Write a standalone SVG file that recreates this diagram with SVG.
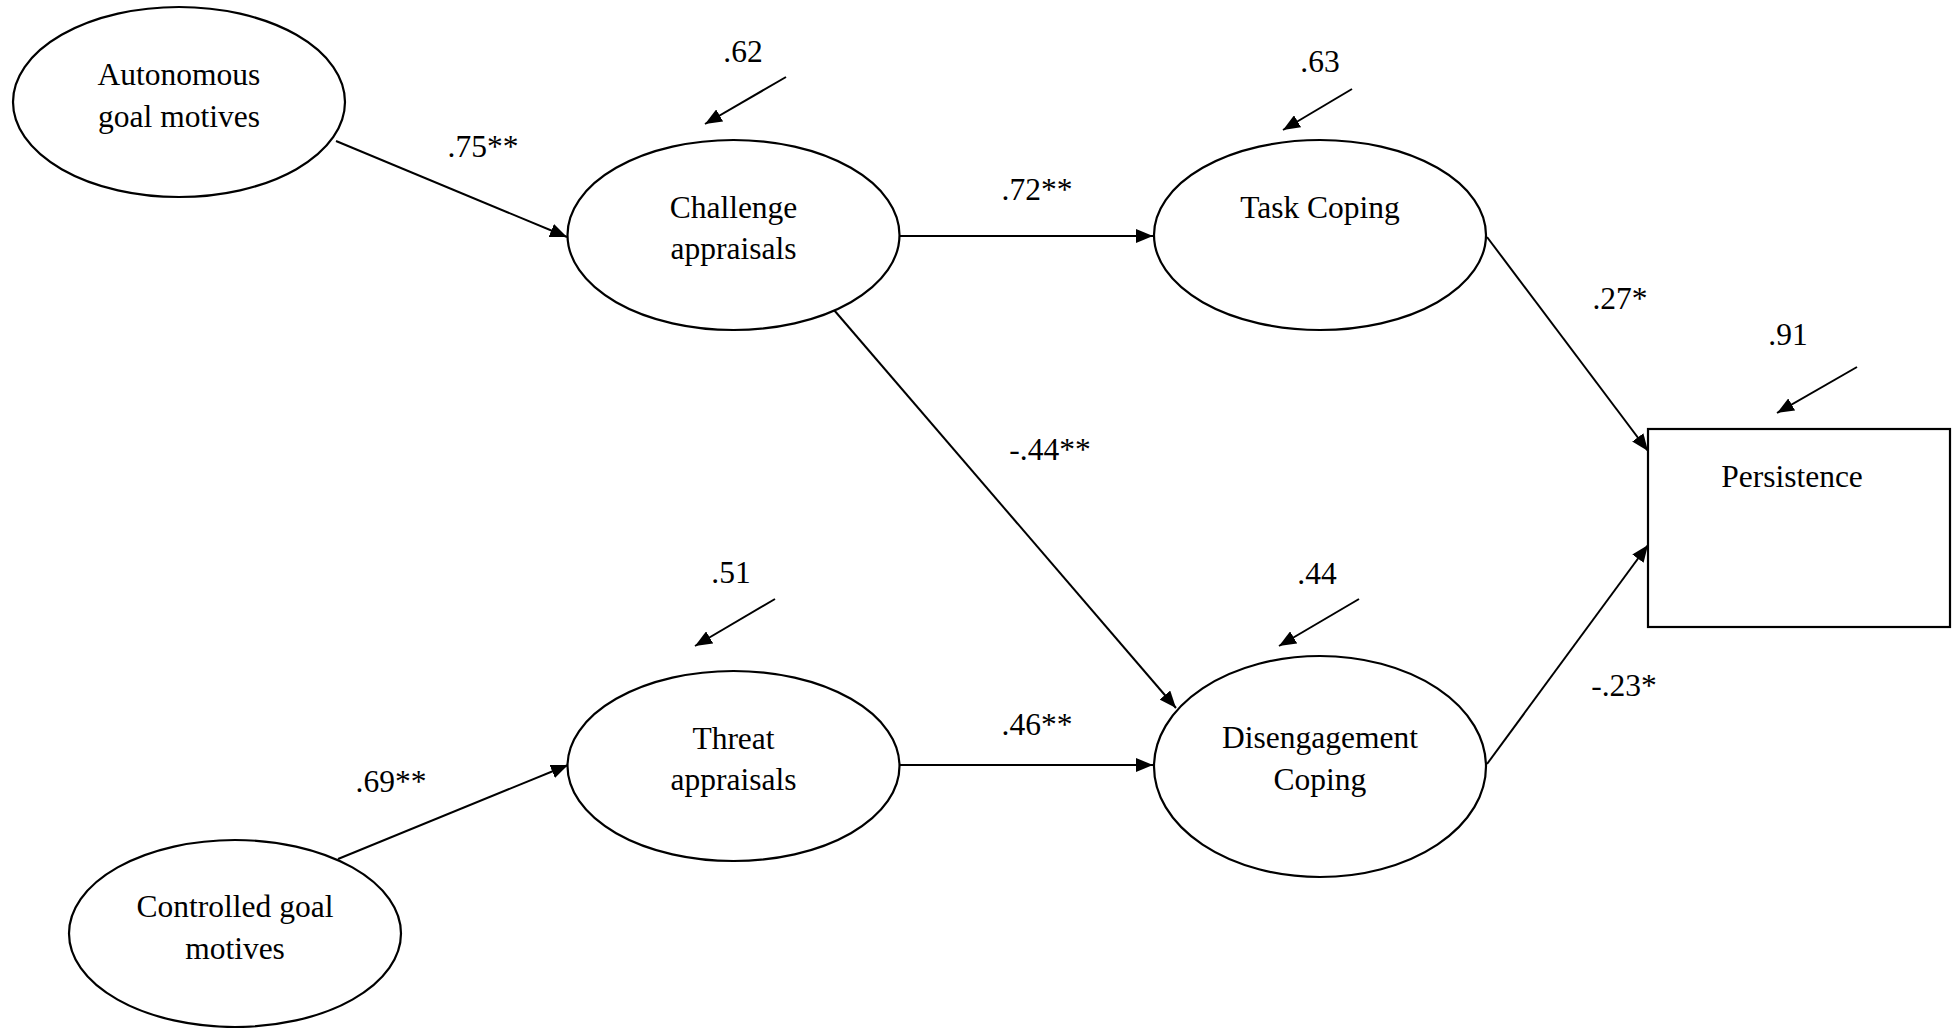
<svg xmlns="http://www.w3.org/2000/svg" width="1953" height="1028" viewBox="0 0 1953 1028">
<style>
.node{fill:#fff;stroke:#000;stroke-width:2.2}
.lbl{font-family:"Liberation Serif","Times New Roman",serif;font-size:31.5px;fill:#000;text-anchor:middle}
.edge{stroke:#000;stroke-width:2;fill:none;marker-end:url(#ah)}
</style>
<defs>
<marker id="ah" markerUnits="userSpaceOnUse" markerWidth="18" markerHeight="14" refX="17" refY="7" orient="auto">
<path d="M0,0 L17,7 L0,14 z" fill="#000"/>
</marker>
</defs>
<rect width="1953" height="1028" fill="#fff"/>
<g id="connectors">
<line class="edge" x1="336" y1="141" x2="567" y2="237"/>
<line class="edge" x1="899" y1="236" x2="1153" y2="236"/>
<line class="edge" x1="834" y1="310" x2="1176" y2="708"/>
<line class="edge" x1="338" y1="859" x2="568" y2="765"/>
<line class="edge" x1="899" y1="765" x2="1153" y2="765"/>
<line class="edge" x1="1487" y1="237" x2="1648" y2="451"/>
<line class="edge" x1="1487" y1="764" x2="1648" y2="545"/>
<line class="edge" x1="786" y1="77" x2="705" y2="124"/>
<line class="edge" x1="1352" y1="89" x2="1283" y2="130"/>
<line class="edge" x1="775" y1="599" x2="695" y2="646"/>
<line class="edge" x1="1359" y1="599" x2="1279" y2="646"/>
<line class="edge" x1="1857" y1="367" x2="1777" y2="413"/>
<text class="lbl" x="743" y="62">.62</text>
<text class="lbl" x="1320" y="72">.63</text>
<text class="lbl" x="731" y="583">.51</text>
<text class="lbl" x="1317" y="584">.44</text>
<text class="lbl" x="1788" y="345">.91</text>
<text class="lbl" x="483" y="157">.75**</text>
<text class="lbl" x="1037" y="200">.72**</text>
<text class="lbl" x="1050" y="460">-.44**</text>
<text class="lbl" x="1037" y="735">.46**</text>
<text class="lbl" x="391" y="792">.69**</text>
<text class="lbl" x="1620" y="309">.27*</text>
<text class="lbl" x="1624" y="696">-.23*</text>
</g>
<g id="autonomous">
<ellipse class="node" cx="179" cy="102" rx="166" ry="95"/>
<text class="lbl" x="179" y="85">Autonomous</text>
<text class="lbl" x="179" y="127">goal motives</text>
</g>
<g id="challenge">
<ellipse class="node" cx="733.5" cy="235" rx="166" ry="95"/>
<text class="lbl" x="733.5" y="218">Challenge</text>
<text class="lbl" x="733.5" y="259">appraisals</text>
</g>
<g id="task">
<ellipse class="node" cx="1320" cy="235" rx="166" ry="95"/>
<text class="lbl" x="1320" y="218">Task Coping</text>
</g>
<g id="threat">
<ellipse class="node" cx="733.5" cy="766" rx="166" ry="95"/>
<text class="lbl" x="733.5" y="749">Threat</text>
<text class="lbl" x="733.5" y="790">appraisals</text>
</g>
<g id="disengagement">
<ellipse class="node" cx="1320" cy="766.5" rx="166" ry="110.5"/>
<text class="lbl" x="1320" y="748">Disengagement</text>
<text class="lbl" x="1320" y="790">Coping</text>
</g>
<g id="controlled">
<ellipse class="node" cx="235" cy="933.5" rx="166" ry="93.5"/>
<text class="lbl" x="235" y="917">Controlled goal</text>
<text class="lbl" x="235" y="959">motives</text>
</g>
<g id="persistence">
<rect class="node" x="1648" y="429" width="302" height="198"/>
<text class="lbl" x="1792" y="487">Persistence</text>
</g>
</svg>
